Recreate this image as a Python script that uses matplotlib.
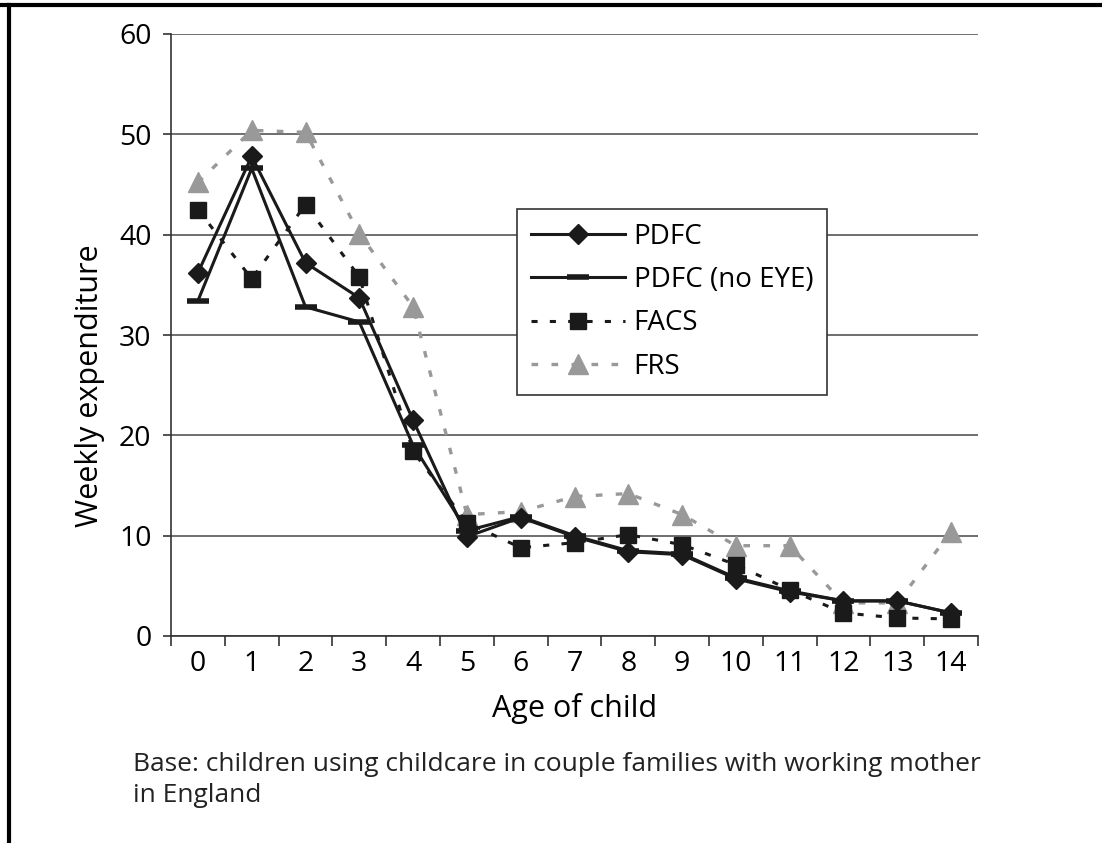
import matplotlib.pyplot as plt
from matplotlib.lines import Line2D

plt.rcParams['font.family'] = ['Open Sans', 'DejaVu Sans']

# Idade da criança e gasto semanal
ages = list(range(15))
pdfc = [36.2, 47.8, 37.2, 33.7, 21.5, 9.9, 11.8, 9.9, 8.4, 8.1, 5.7, 4.4, 3.5, 3.5, 2.3]
pdfc_no_eye = [33.4, 46.6, 32.8, 31.3, 19.0, 10.5, 11.9, 10.0, 8.5, 8.2, 5.8, 4.5, 3.5, 3.5, 2.3]
facs = [42.5, 35.6, 43.0, 35.8, 18.4, 11.3, 8.8, 9.3, 10.1, 9.1, 7.1, 4.6, 2.3, 1.8, 1.7]
frs = [45.2, 50.4, 50.2, 40.1, 32.8, 12.1, 12.4, 13.9, 14.2, 12.1, 9.0, 9.0, 3.3, 3.3, 10.4]
yticks = [0, 10, 20, 30, 40, 50, 60]

fig = plt.figure(figsize=(11.02, 8.43), dpi=100)
ax = fig.add_axes([171 / 1102, 1 - 636 / 843, (978 - 171) / 1102, (636 - 34) / 843])

ax.plot(ages, pdfc, color='#1a1a1a', lw=2.2, marker='D', ms=10, label='PDFC', zorder=5)
ax.plot(ages, pdfc_no_eye, color='#1a1a1a', lw=2.2, marker='_', ms=16, mew=4,
        label='PDFC (no EYE)', zorder=4)
ax.plot(ages, facs, color='#1a1a1a', lw=2.2, ls=(0, (2, 4)), marker='s', ms=12,
        label='FACS', zorder=3)
ax.plot(ages, frs, color='#999999', lw=2.4, ls=(0, (2, 4)), marker='^', ms=15,
        label='FRS', zorder=2)

ax.set_xlim(-0.5, 14.5)
ax.set_ylim(0, 60)
ax.set_yticks(yticks)
ax.set_xticks(ages)
ax.set_xticks([a - 0.5 for a in ages] + [14.5], minor=True)
ax.tick_params(axis='x', which='major', length=0, pad=10, labelsize=20.5)
ax.tick_params(axis='x', which='minor', length=7, width=1.2, color='#333333')
ax.tick_params(axis='y', length=6, width=1.2, color='#333333', pad=8, labelsize=20.5)
ax.grid(axis='y', color='#555555', lw=1.2)
ax.set_axisbelow(True)
for s in ['top', 'right']:
    ax.spines[s].set_visible(False)
for s in ['left', 'bottom']:
    ax.spines[s].set_color('#333333')
    ax.spines[s].set_linewidth(1.2)

ax.set_xlabel('Age of child', fontsize=22)
ax.set_ylabel('Weekly expenditure', fontsize=22, va='center')
ax.xaxis.set_label_coords(0.5, (636 - 708) / 602)
ax.xaxis.label.set_va('center')
ax.yaxis.set_label_coords((90 - 171) / 807, (636 - 386) / 602)

leg = ax.legend(loc='upper left', bbox_to_anchor=((517 - 171) / 807, (636 - 209) / 602),
                fontsize=20, frameon=True, fancybox=False, edgecolor='#333333',
                handlelength=3.4, labelspacing=0.55, borderpad=0.5, handletextpad=0.3,
                borderaxespad=0)
leg.get_frame().set_linewidth(1.2)
leg.get_frame().set_alpha(1)

fig.text(133 / 1102, 1 - 780 / 843,
         'Base: children using childcare in couple families with working mother\nin England',
         fontsize=19, va='center', ha='left', linespacing=1.3, color='#222222')

# moldura (linhas superior e esquerda)
fig.add_artist(Line2D([0, 1], [1 - 5 / 843] * 2, color='black', lw=3))
fig.add_artist(Line2D([9 / 1102] * 2, [0, 1 - 5 / 843], color='black', lw=3))

plt.savefig('out.png', dpi=100)
